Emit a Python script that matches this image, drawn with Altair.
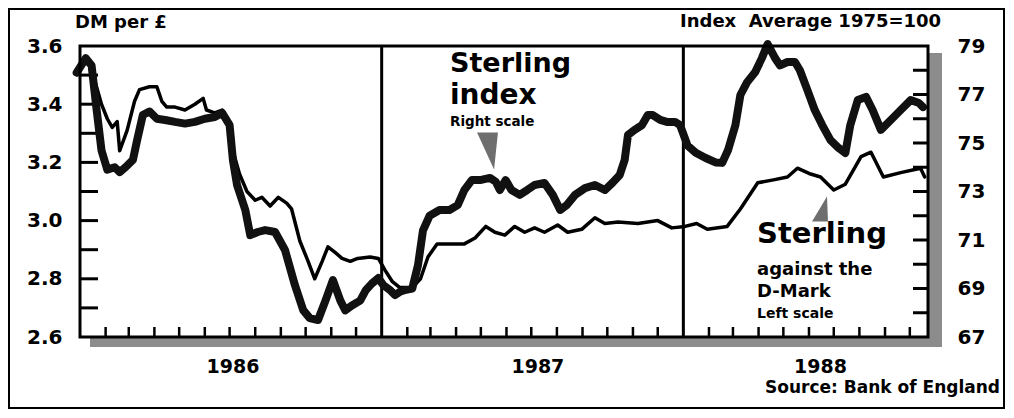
import altair as alt
import pandas as pd

# ---------------- data ----------------
idx_dates = ["1985-12-28","1986-01-08","1986-01-15","1986-01-21","1986-01-27","1986-02-03","1986-02-12","1986-02-18","1986-02-25","1986-03-06","1986-03-11","1986-03-18","1986-03-26","1986-04-04","1986-04-14","1986-04-26","1986-05-08","1986-05-20","1986-06-01","1986-06-13","1986-06-22","1986-07-01","1986-07-05","1986-07-10","1986-07-20","1986-07-26","1986-08-04","1986-08-13","1986-08-25","1986-09-06","1986-09-18","1986-09-28","1986-10-06","1986-10-16","1986-10-25","1986-11-03","1986-11-12","1986-11-18","1986-11-26","1986-12-06","1986-12-13","1986-12-20","1986-12-28","1987-01-03","1987-01-11","1987-01-17","1987-01-23","1987-01-29","1987-02-07","1987-02-14","1987-02-20","1987-02-28","1987-03-12","1987-03-24","1987-04-03","1987-04-11","1987-04-20","1987-04-30","1987-05-12","1987-05-19","1987-05-24","1987-05-31","1987-06-07","1987-06-17","1987-06-26","1987-07-05","1987-07-17","1987-07-27","1987-08-05","1987-08-13","1987-08-23","1987-09-04","1987-09-16","1987-09-28","1987-10-07","1987-10-16","1987-10-22","1987-10-26","1987-11-03","1987-11-12","1987-11-19","1987-11-25","1987-12-04","1987-12-12","1987-12-22","1987-12-28","1988-01-06","1988-01-16","1988-01-28","1988-02-09","1988-02-17","1988-02-24","1988-03-04","1988-03-10","1988-03-18","1988-03-28","1988-04-05","1988-04-12","1988-04-21","1988-04-27","1988-05-06","1988-05-15","1988-05-21","1988-05-30","1988-06-08","1988-06-17","1988-06-27","1988-07-07","1988-07-15","1988-07-21","1988-07-30","1988-08-09","1988-08-17","1988-08-27","1988-09-08","1988-09-20","1988-10-02","1988-10-12","1988-10-17"]
idx_values = [77.9,78.5,78.2,76.4,74.7,73.9,74.0,73.8,74.0,74.3,75.1,76.15,76.3,76.0,75.95,75.87,75.8,75.87,76.0,76.07,76.24,75.74,74.3,73.27,72.24,71.2,71.33,71.41,71.33,70.59,69.14,68.11,67.78,67.7,68.5,69.35,68.5,68.1,68.3,68.5,68.94,69.2,69.43,69.14,68.94,68.73,68.86,68.94,69.0,69.97,71.4,72.0,72.24,72.24,72.44,73.06,73.47,73.47,73.56,73.4,73.06,73.47,73.06,72.86,73.06,73.27,73.35,72.86,72.24,72.44,72.86,73.14,73.27,73.06,73.35,73.68,74.3,75.33,75.54,75.74,76.15,76.15,75.95,75.87,75.87,75.74,74.9,74.6,74.38,74.2,74.18,74.7,75.74,76.98,77.5,77.93,78.5,79.08,78.5,78.2,78.34,78.34,78.0,77.19,76.36,75.74,75.12,74.79,74.59,75.74,76.77,76.9,76.36,75.54,75.95,76.36,76.77,76.65,76.48]

dm_dates = ["1985-12-29","1986-01-10","1986-01-19","1986-01-27","1986-02-03","1986-02-09","1986-02-15","1986-02-18","1986-02-27","1986-03-08","1986-03-14","1986-03-26","1986-04-04","1986-04-10","1986-04-16","1986-04-26","1986-05-08","1986-05-20","1986-05-30","1986-06-03","1986-06-13","1986-06-22","1986-06-29","1986-07-05","1986-07-13","1986-07-22","1986-08-01","1986-08-09","1986-08-19","1986-08-29","1986-09-08","1986-09-14","1986-09-24","1986-10-04","1986-10-12","1986-10-21","1986-10-28","1986-11-06","1986-11-14","1986-11-24","1986-12-03","1986-12-18","1986-12-28","1987-01-05","1987-01-14","1987-01-23","1987-02-07","1987-02-17","1987-02-26","1987-03-09","1987-03-24","1987-04-11","1987-04-24","1987-05-07","1987-05-18","1987-05-30","1987-06-11","1987-06-23","1987-07-05","1987-07-17","1987-08-02","1987-08-14","1987-08-31","1987-09-16","1987-09-28","1987-10-14","1987-11-07","1987-12-01","1987-12-18","1988-01-03","1988-01-17","1988-01-30","1988-02-23","1988-03-10","1988-03-31","1988-04-19","1988-05-06","1988-05-18","1988-06-03","1988-06-15","1988-07-01","1988-07-15","1988-08-03","1988-08-15","1988-08-30","1988-09-20","1988-10-14","1988-10-19"]
dm_values = [3.52,3.55,3.48,3.40,3.35,3.32,3.34,3.24,3.31,3.41,3.45,3.46,3.46,3.41,3.39,3.39,3.38,3.40,3.42,3.38,3.37,3.38,3.33,3.24,3.16,3.10,3.07,3.08,3.05,3.08,3.06,3.04,2.93,2.86,2.80,2.86,2.91,2.89,2.87,2.86,2.87,2.875,2.87,2.83,2.79,2.77,2.77,2.80,2.875,2.92,2.92,2.92,2.94,2.98,2.96,2.95,2.98,2.96,2.975,2.96,2.985,2.96,2.97,3.01,2.99,2.995,2.99,3.00,2.975,2.98,2.99,2.97,2.98,3.04,3.13,3.14,3.15,3.18,3.16,3.15,3.105,3.125,3.22,3.235,3.15,3.165,3.18,3.15]

year_labels = ["1986", "1987", "1988"]
year_label_dates = ["1986-07-05", "1987-07-09", "1988-06-15"]
year_starts = ["1987-01-01", "1988-01-01"]
month_ticks = [d.strftime("%Y-%m-%d") for d in pd.date_range("1986-02-01", "1988-10-01", freq="MS")
               if d.month != 1]

left_labels = [2.6, 2.8, 3.0, 3.2, 3.4, 3.6]
left_ticks = [2.7, 2.8, 2.9, 3.0, 3.1, 3.2, 3.3, 3.4, 3.5]
right_labels = [67, 69, 71, 73, 75, 77, 79]
right_ticks = [68, 69, 70, 71, 72, 73, 74, 75, 76, 77, 78]

# ---------------- chart ----------------
W, H = 848, 291
FONT = "DejaVu Sans"

xs = alt.Scale(domain=[alt.DateTime(year=1986, month=1, date=1, utc=True),
                       alt.DateTime(year=1988, month=10, date=23, utc=True)], nice=False)
ys_dm = alt.Scale(domain=[2.6, 3.6], nice=False, zero=False)
ys_idx = alt.Scale(domain=[67, 79], nice=False, zero=False)

idx_df = pd.DataFrame({"date": idx_dates, "idx": idx_values})
dm_df = pd.DataFrame({"date": dm_dates, "dm": dm_values})
one = pd.DataFrame({"k": [0]})

outer = alt.Chart(one).mark_rect(fillOpacity=0, stroke="black", strokeWidth=2).encode(
    x=alt.value(-71), x2=alt.value(W + 76), y=alt.value(-37), y2=alt.value(H + 71))
shadow = alt.Chart(one).mark_rect(color="#8c8c8c").encode(
    x=alt.value(10), x2=alt.value(W + 14), y=alt.value(7), y2=alt.value(H + 10))
plotbg = alt.Chart(one).mark_rect(color="white").encode(
    x=alt.value(0), x2=alt.value(W), y=alt.value(0), y2=alt.value(H))
frame = alt.Chart(one).mark_rect(fillOpacity=0, stroke="black", strokeWidth=3).encode(
    x=alt.value(0), x2=alt.value(W), y=alt.value(0), y2=alt.value(H))

mticks = alt.Chart(pd.DataFrame({"date": month_ticks})).mark_rule(
    color="black", strokeWidth=2.5).encode(
    x=alt.X("date:T", scale=xs, axis=None), y=alt.value(H - 10), y2=alt.value(H))
ydiv = alt.Chart(pd.DataFrame({"date": year_starts})).mark_rule(
    color="black", strokeWidth=3).encode(
    x=alt.X("date:T", scale=xs, axis=None), y=alt.value(0), y2=alt.value(H))

lticks = alt.Chart(pd.DataFrame({"v": left_ticks})).mark_rule(color="black", strokeWidth=3).encode(
    y=alt.Y("v:Q", scale=ys_dm, axis=None), x=alt.value(0), x2=alt.value(18))
rticks = alt.Chart(pd.DataFrame({"v": right_ticks})).mark_rule(color="black", strokeWidth=3).encode(
    y=alt.Y("v:Q", scale=ys_idx, axis=None), x=alt.value(W - 15), x2=alt.value(W))

dm_line = alt.Chart(dm_df).mark_line(color="black", strokeWidth=3.5, strokeJoin="round",
                                     strokeCap="round").encode(
    x=alt.X("date:T", scale=xs, axis=None),
    y=alt.Y("dm:Q", scale=ys_dm,
            axis=alt.Axis(orient="left", values=left_labels, format=".1f", title=None,
                          domain=False, grid=False, ticks=False, tickSize=0, labelPadding=18,
                          labelFont=FONT, labelFontSize=20, labelFontWeight="bold",
                          labelColor="black", labelFlush=False, labelOverlap=False)))
idx_line = alt.Chart(idx_df).mark_line(color="#111111", strokeWidth=8, strokeJoin="round",
                                       strokeCap="round").encode(
    x=alt.X("date:T", scale=xs, axis=None),
    y=alt.Y("idx:Q", scale=ys_idx,
            axis=alt.Axis(orient="right", values=right_labels, format="d", title=None,
                          domain=False, grid=False, ticks=False, tickSize=0, labelPadding=29,
                          labelFont=FONT, labelFontSize=20, labelFontWeight="bold",
                          labelColor="black", labelFlush=False, labelOverlap=False)))

ylabels = alt.Chart(pd.DataFrame({"date": year_label_dates, "lab": year_labels})).mark_text(
    font=FONT, fontSize=19, fontWeight="bold", color="black", baseline="middle", align="center").encode(
    x=alt.X("date:T", scale=xs, axis=None), y=alt.value(H + 30), text="lab:N")


def label(text, x, y, size, align="left"):
    return alt.Chart(one).mark_text(text=text, align=align, baseline="alphabetic", font=FONT,
                                    fontSize=size, fontWeight="bold", color="black").encode(
        x=alt.value(x), y=alt.value(y))


texts = [
    label("DM per £", -5, -18, 18),
    label("Index\u00a0 Average 1975=100", 600, -19, 18),
    label("Source: Bank of England", 920, 347, 17, "right"),
    label("Sterling", 370, 26, 27),
    label("index", 370, 58, 28),
    label("Right scale", 370, 80, 13.5),
    label("Sterling", 677, 197, 29),
    label("against the", 677, 229, 18),
    label("D-Mark", 677, 251, 18),
    label("Left scale", 677, 272, 14),
]

ptr1 = alt.Chart(one).mark_point(shape="M -0.7 -1 L 0.43 -1 L 0.22 1 Z", size=1369, filled=True,
                                 color="#6e6e6e", opacity=1).encode(x=alt.value(410), y=alt.value(105))
ptr2 = alt.Chart(one).mark_point(shape="M 0.56 -1 L 0.64 1 L -0.64 1 Z", size=625, filled=True,
                                 color="#6e6e6e", opacity=1).encode(x=alt.value(740), y=alt.value(163))

chart = alt.layer(
    outer, shadow, plotbg, mticks, lticks, rticks, ydiv, dm_line, idx_line, frame, ylabels,
    *texts, ptr1, ptr2
).resolve_scale(y="independent").properties(
    width=W, height=H,
    autosize=alt.AutoSizeParams(type="none"),
    padding={"left": 72, "top": 38, "right": 78, "bottom": 72},
).configure_view(stroke=None).configure(font=FONT)

chart.save("out.html", embed_options={"renderer": "svg", "actions": False})
